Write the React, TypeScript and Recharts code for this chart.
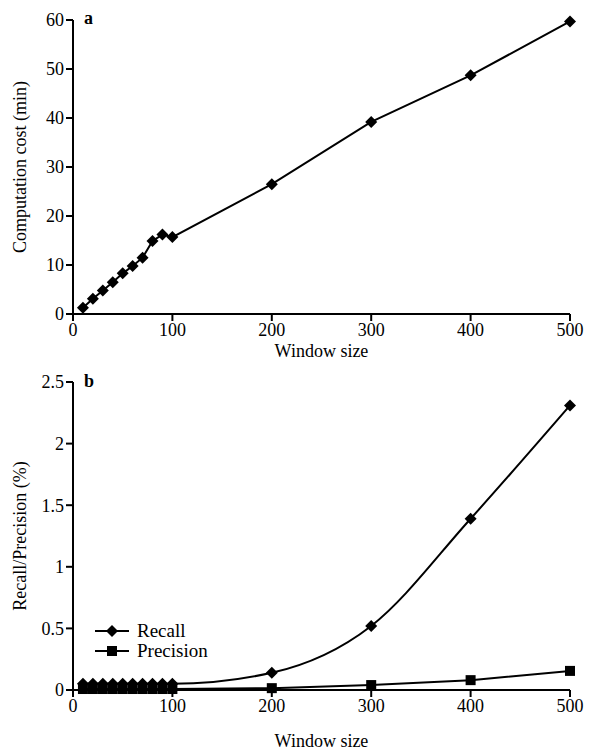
import React from "react";
import { LineChart, Line, XAxis, YAxis, Label } from "recharts";

const windowSizes = [10, 20, 30, 40, 50, 60, 70, 80, 90, 100, 200, 300, 400, 500];
const costMin = [1.3, 3.1, 4.8, 6.5, 8.3, 9.8, 11.5, 14.9, 16.2, 15.7, 26.5, 39.2, 48.7, 59.7];
const recallPct = [0.05, 0.05, 0.05, 0.05, 0.05, 0.05, 0.05, 0.05, 0.05, 0.05, 0.14, 0.52, 1.39, 2.31];
const precisionPct = [0.008, 0.008, 0.008, 0.008, 0.008, 0.008, 0.008, 0.008, 0.008, 0.008, 0.015, 0.04, 0.08, 0.155];
const xTicks = [0, 100, 200, 300, 400, 500];
const costTicks = [0, 10, 20, 30, 40, 50, 60];
const pctTicks = [0, 0.5, 1, 1.5, 2, 2.5];

const costData = windowSizes.map((w, i) => ({ w, cost: costMin[i] }));
const pctData = windowSizes.map((w, i) => ({
  w,
  recall: recallPct[i],
  precision: precisionPct[i],
}));

const FONT = "'Liberation Serif', 'Times New Roman', serif";
const tickStyle = { fill: "#000", fontSize: 18, fontFamily: FONT };
const axisLine = { stroke: "#000", strokeWidth: 2 };

const Diamond = (props: any) => {
  const { cx, cy } = props;
  if (cx == null || cy == null) return null;
  const r = 6;
  return (
    <polygon
      points={`${cx},${cy - r} ${cx + r},${cy} ${cx},${cy + r} ${cx - r},${cy}`}
      fill="#000"
    />
  );
};

const Square = (props: any) => {
  const { cx, cy } = props;
  if (cx == null || cy == null) return null;
  const r = 5;
  return <rect x={cx - r} y={cy - r} width={2 * r} height={2 * r} fill="#000" />;
};

const legendItems = [
  { name: "Recall", shape: "diamond" },
  { name: "Precision", shape: "square" },
];

const LegendBox = () => (
  <div
    style={{
      position: "absolute",
      left: 93,
      top: 621,
      fontFamily: FONT,
      fontSize: 19,
      color: "#000",
      lineHeight: "20px",
    }}
  >
    {legendItems.map((it) => (
      <div key={it.name} style={{ display: "flex", alignItems: "center", height: 20 }}>
        <svg width={40} height={16}>
          <line x1={2} y1={8} x2={36} y2={8} stroke="#000" strokeWidth={2} />
          {it.shape === "diamond" ? (
            <polygon points="19,2 25,8 19,14 13,8" fill="#000" />
          ) : (
            <rect x={14} y={3} width={10} height={10} fill="#000" />
          )}
        </svg>
        <span style={{ marginLeft: 4 }}>{it.name}</span>
      </div>
    ))}
  </div>
);

const panelLetter = (txt: string, top: number) => (
  <div
    style={{
      position: "absolute",
      left: 84,
      top,
      fontFamily: FONT,
      fontWeight: "bold",
      fontSize: 18,
      color: "#000",
    }}
  >
    {txt}
  </div>
);

export default function App() {
  return (
    <div style={{ position: "absolute", left: 0, top: 0, width: 591, height: 751, background: "#fff" }}>
      <LineChart width={591} height={370} data={costData} margin={{ top: 20, right: 21, left: 0, bottom: 0 }}>
        <XAxis
          dataKey="w"
          type="number"
          domain={[0, 500]}
          ticks={xTicks}
          height={56}
          tick={tickStyle}
          axisLine={axisLine}
          tickLine={axisLine}
          tickSize={7}
        >
          <Label value="Window size" position="insideBottom" offset={13} style={tickStyle} />
        </XAxis>
        <YAxis
          type="number"
          domain={[0, 60]}
          ticks={costTicks}
          width={73}
          tick={tickStyle}
          axisLine={axisLine}
          tickLine={axisLine}
          tickSize={7}
        >
          <Label
            value="Computation cost (min)"
            angle={-90}
            position="insideLeft"
            offset={20}
            style={{ ...tickStyle, textAnchor: "middle" }}
          />
        </YAxis>
        <Line
          dataKey="cost"
          stroke="#000"
          strokeWidth={2}
          dot={<Diamond />}
          activeDot={false}
          isAnimationActive={false}
        />
      </LineChart>
      <LineChart width={591} height={381} data={pctData} margin={{ top: 12, right: 21, left: 0, bottom: 0 }}>
        <XAxis
          dataKey="w"
          type="number"
          domain={[0, 500]}
          ticks={xTicks}
          height={61}
          tick={tickStyle}
          axisLine={axisLine}
          tickLine={axisLine}
          tickSize={7}
        >
          <Label value="Window size" position="insideBottom" offset={4} style={tickStyle} />
        </XAxis>
        <YAxis
          type="number"
          domain={[0, 2.5]}
          ticks={pctTicks}
          width={73}
          tick={tickStyle}
          axisLine={axisLine}
          tickLine={axisLine}
          tickSize={7}
        >
          <Label
            value="Recall/Precision (%)"
            angle={-90}
            position="insideLeft"
            offset={20}
            style={{ ...tickStyle, textAnchor: "middle" }}
          />
        </YAxis>
        <Line
          dataKey="precision"
          name="Precision"
          stroke="#000"
          strokeWidth={2}
          dot={<Square />}
          activeDot={false}
          isAnimationActive={false}
        />
        <Line
          dataKey="recall"
          name="Recall"
          type="monotone"
          stroke="#000"
          strokeWidth={2}
          dot={<Diamond />}
          activeDot={false}
          isAnimationActive={false}
        />
      </LineChart>
      <LegendBox />
      {panelLetter("a", 8)}
      {panelLetter("b", 371)}
    </div>
  );
}
